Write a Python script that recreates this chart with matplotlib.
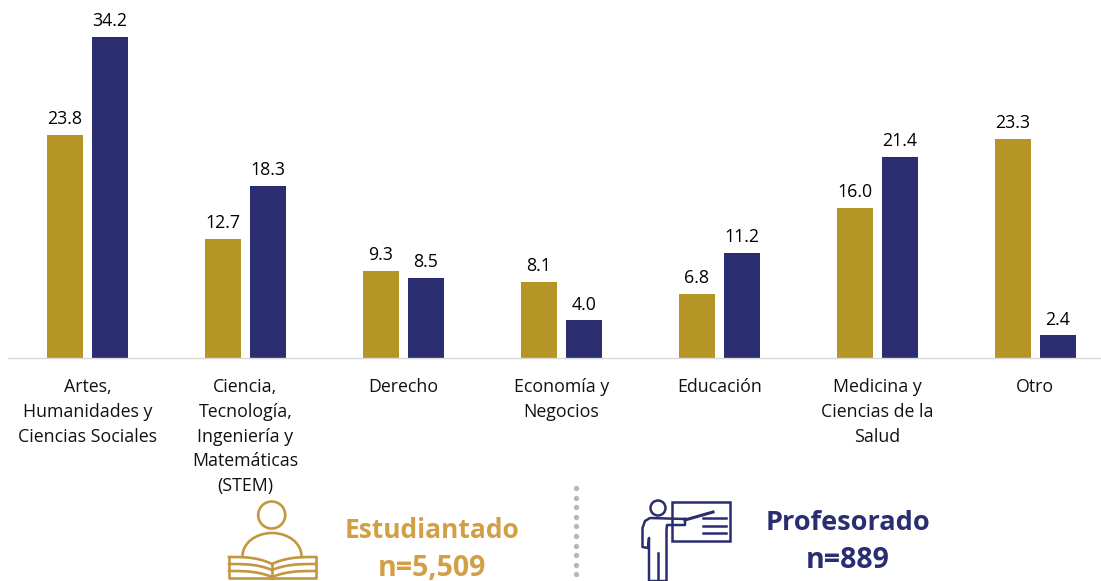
import matplotlib
matplotlib.use("Agg")
import matplotlib.pyplot as plt
import numpy as np
from matplotlib.patches import Circle, Rectangle, Arc

categorias = ["Artes,\nHumanidades y\nCiencias Sociales",
              "Ciencia,\nTecnología,\nIngeniería y\nMatemáticas\n(STEM)",
              "Derecho",
              "Economía y\nNegocios",
              "Educación",
              "Medicina y\nCiencias de la\nSalud",
              "Otro"]
estudiantado = [23.8, 12.7, 9.3, 8.1, 6.8, 16.0, 23.3]
profesorado = [34.2, 18.3, 8.5, 4.0, 11.2, 21.4, 2.4]

ORO = "#B59526"
AZUL = "#2A2D6F"
ORO_TXT = "#D19F45"
ORO_ICONO = "#C3973F"
W, H = 1101, 581

plt.rcParams['font.family'] = ['Open Sans', 'DejaVu Sans']

fig = plt.figure(figsize=(W / 100, H / 100), dpi=100)
ax = fig.add_axes([8 / W, (H - 358) / H, (W - 8) / W, 358 / H])

x = np.arange(len(categorias))
ax.bar(x - 0.143, estudiantado, width=0.228, color=ORO)
ax.bar(x + 0.143, profesorado, width=0.228, color=AZUL)

for i in x:
    ax.annotate(f"{estudiantado[i]:.1f}", (i - 0.143, estudiantado[i]), xytext=(0, 5),
                textcoords='offset points', ha='center', va='bottom', fontsize=12.8, color='black')
    ax.annotate(f"{profesorado[i]:.1f}", (i + 0.143, profesorado[i]), xytext=(0, 5),
                textcoords='offset points', ha='center', va='bottom', fontsize=12.8, color='black')

ax.set_xlim(-0.503, 6.415)
ax.set_ylim(0, 38.14)
ax.set_yticks([])
ax.set_xticks(x)
ax.set_xticklabels(categorias, fontsize=12.8, linespacing=1.48, color='#111111')
ax.tick_params(axis='x', length=0, pad=14.5)
for s in ['top', 'left', 'right']:
    ax.spines[s].set_visible(False)
ax.spines['bottom'].set_color('#D9D9D9')
ax.spines['bottom'].set_linewidth(1)
for lab in ax.get_xticklabels():
    lab.set_clip_on(False)

# leyenda con iconos, en pixeles de la imagen
ov = fig.add_axes([0, 0, 1, 1], facecolor='none')
ov.set_xlim(0, W)
ov.set_ylim(H, 0)
ov.axis('off')

# libro
lw = 1.9
ov.add_patch(Circle((271.7, 515), 13.5, fill=False, ec=ORO_ICONO, lw=lw))
ov.add_patch(Arc((272, 556), 59, 46, theta1=180, theta2=360, ec=ORO_ICONO, lw=lw))
t = np.linspace(0, 1, 30)
for y0, y1 in [(557, 564), (564, 570), (571, 577)]:
    ov.plot(229 + 43 * t, y0 + (y1 - y0) * t ** 3, color=ORO_ICONO, lw=lw)
    ov.plot(316 - 44 * t, y0 + (y1 - y0) * t ** 3, color=ORO_ICONO, lw=lw)
ov.plot([229, 229, 272, 316, 316], [557, 578, 578, 578, 557], color=ORO_ICONO, lw=lw)
ov.plot([272, 272], [564, 578], color=ORO_ICONO, lw=lw)

# separador punteado
ov.plot([575.5] * 10, np.arange(488, 577, 9.6), ls='none', marker='o', ms=2.8, color='#B8B8B8')

# profesor
lw = 1.8
ov.add_patch(Circle((658, 508), 7.5, fill=False, ec=AZUL, lw=lw))
ov.add_patch(Rectangle((672, 502), 58, 39, fill=False, ec=AZUL, lw=lw))
ov.plot([685, 713], [520, 512], color=AZUL, lw=lw + 0.4)
for yy in [518, 526, 533]:
    ov.plot([703, 726], [yy, yy], color=AZUL, lw=lw)
ov.plot([685, 650, 645, 642.5, 642.5, 648, 649, 649, 666.5, 666.5, 667, 685, 685],
        [519, 518, 521, 528, 547, 548, 538, 581, 581, 530, 525, 525, 519], color=AZUL, lw=lw)
ov.plot([657.5, 657.5], [553, 581], color=AZUL, lw=lw)

ov.text(432, 531, "Estudiantado", ha='center', va='center', fontsize=19, fontweight='bold', color=ORO_TXT)
ov.text(432, 568, "n=5,509", ha='center', va='center', fontsize=20.5, fontweight='bold', color=ORO_TXT)
ov.text(848, 523, "Profesorado", ha='center', va='center', fontsize=19.5, fontweight='bold', color=AZUL)
ov.text(848, 561, "n=889", ha='center', va='center', fontsize=20.5, fontweight='bold', color=AZUL)

fig.savefig("out.png", dpi=100)
